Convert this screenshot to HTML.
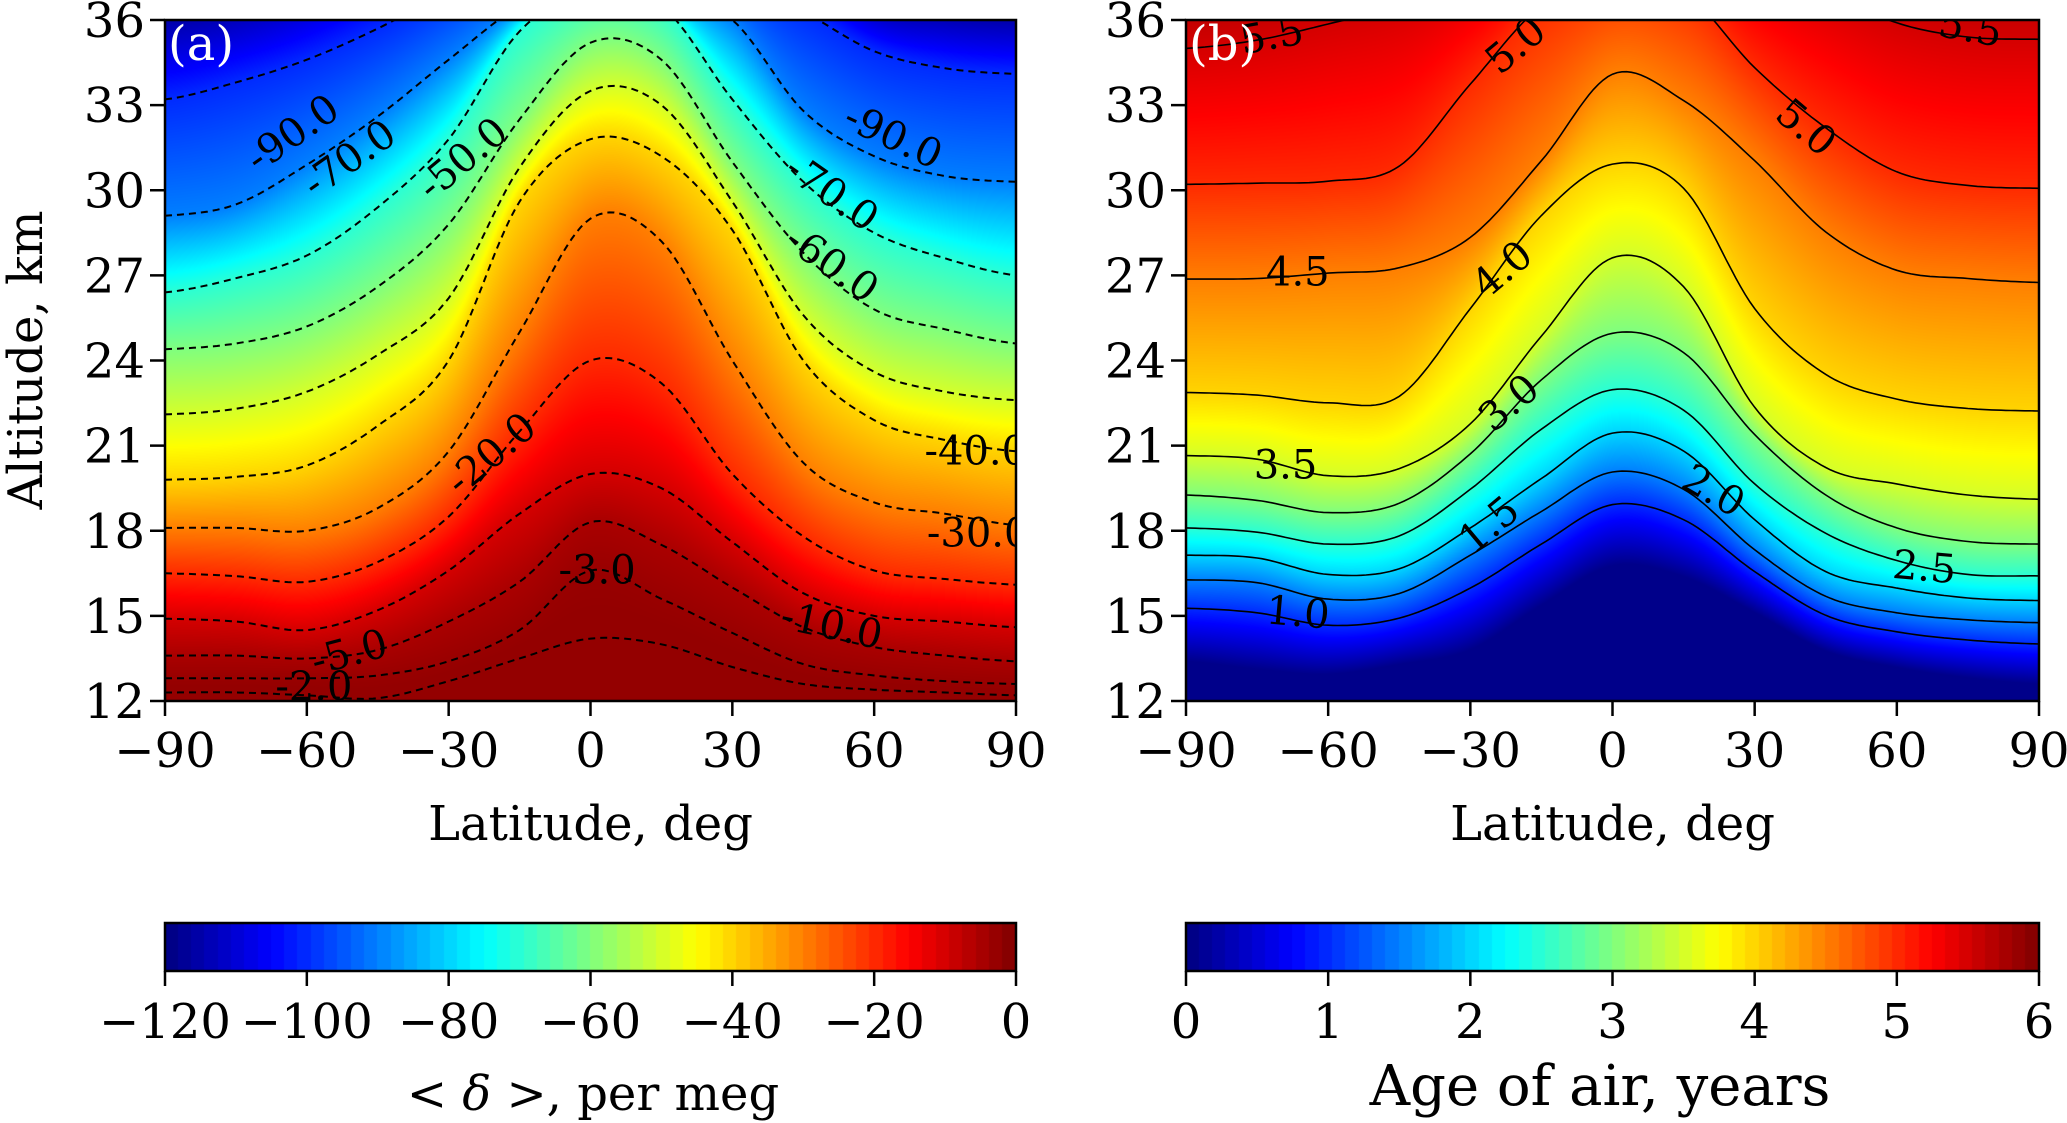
<!DOCTYPE html>
<html><head><meta charset="utf-8">
<style>
html,body{margin:0;padding:0;background:#fff;}
#root{position:relative;width:2067px;height:1123px;overflow:hidden;font-family:"DejaVu Serif","Liberation Serif",serif;}
svg{position:absolute;left:0;top:0;}
canvas{position:absolute;}
</style></head>
<body>
<div id="root">
<canvas id="fa" style="left:165px;top:20px" width="851" height="681"></canvas>
<canvas id="fb" style="left:1186px;top:20px" width="853" height="681"></canvas>
<canvas id="ca" style="left:165px;top:923px" width="851" height="48"></canvas>
<canvas id="cb" style="left:1186px;top:923px" width="853" height="48"></canvas>
<svg id="ov" width="2067" height="1123"></svg>
</div>
<script>
// ---- data ----
const lats = [-90,-75,-60,-45,-30,-15,0,15,30,45,60,75,90];
// panel (a): <delta> field levels (per meg) and altitude (km) of each level at each latitude
const levelsA = [-115,-100,-90,-70,-60,-50,-40,-30,-20,-10,-5,-3,-2];
const altA_m115 = [36.0,36.4,37.2,38.5,40,41,42,41.5,40,38.5,36.6,36.2,36.0];
const altA_m100 = [33.2,33.8,34.6,35.7,37,38,39,38.5,37.5,36.3,34.9,34.3,34.1];
const altA_m90  = [29.1,29.5,30.9,32.6,34.6,36.5,37.5,37,36,32.8,31.2,30.5,30.3];
const altA_m70  = [26.4,26.9,27.7,29.4,31.8,35.6,37,36.5,33.2,30.3,28.5,27.6,27.0];
const altA_m60  = [24.4,24.6,25.2,26.6,28.8,32.5,35.2,34.6,31.0,27.8,25.8,25.1,24.6];
const altA_m50  = [22.1,22.3,22.9,24.2,26.2,30.8,33.5,33.0,29.6,25.6,23.6,22.9,22.6];
const altA_m40  = [19.8,19.9,20.3,21.7,24.0,29.6,31.8,31.2,28.6,24.0,21.9,21.2,20.8];
const altA_m30  = [18.1,18.1,18.0,18.8,20.8,25.0,29.0,28.2,24.0,20.4,19.0,18.6,18.2];
const altA_m20  = [16.5,16.4,16.2,16.9,18.5,21.5,24.0,23.2,20.0,17.8,16.6,16.3,16.1];
const altA_m10  = [14.9,14.8,14.5,15.2,16.6,18.6,20.0,19.5,17.6,15.8,15.0,14.8,14.6];
const altA_m5   = [13.6,13.6,13.5,13.8,14.8,16.2,18.3,17.5,16.0,14.6,13.9,13.6,13.4];
const altA_m3   = [12.8,12.8,12.8,12.9,13.4,14.5,16.6,15.6,14.4,13.3,12.9,12.7,12.6];
const altA_m2   = [12.3,12.3,12.2,12.1,12.7,13.5,14.2,14.0,13.2,12.6,12.4,12.3,12.2];
// which levels are drawn as contour lines in panel (a)
const drawnA = [false,true,true,true,true,true,true,true,true,true,true,true,true];
// panel (b): age of air contour levels (years) and altitudes
const levelsB = [1.0,1.5,2.0,2.5,3.0,3.5,4.0,4.5,5.0,5.5];
const altB_10 = [15.27,15.11,14.67,14.92,15.98,17.53,18.92,18.39,16.56,15.02,14.44,14.15,14.01];
const altB_15 = [16.27,16.17,15.59,15.79,17.14,18.68,20.07,19.46,17.33,15.69,15.11,14.86,14.76];
const altB_20 = [17.14,17.04,16.46,16.66,18.10,19.84,21.44,20.81,18.39,16.56,15.98,15.63,15.54];
const altB_25 = [18.10,17.95,17.53,17.82,19.46,21.58,22.97,22.25,19.65,17.91,16.95,16.46,16.41];
const altB_30 = [19.26,19.07,18.64,18.97,20.71,23.32,24.96,24.28,21.39,19.26,18.10,17.62,17.53];
const altB_35 = [20.65,20.52,19.94,20.19,21.77,24.86,27.62,26.60,22.35,20.23,19.65,19.26,19.11];
const altB_40 = [22.87,22.78,22.51,22.74,25.83,29.11,30.92,30.07,25.83,23.51,22.64,22.31,22.22];
const altB_45 = [26.87,26.89,27.08,27.27,28.34,31.04,34.09,33.16,31.04,28.53,27.18,26.89,26.75];
const altB_50 = [30.21,30.25,30.32,30.85,33.74,36.5,37.5,37.0,34.32,32.20,30.65,30.17,30.07];
const altB_55 = [35.0,35.29,35.86,36.5,37.5,38.5,39.5,39,38,37,35.9,35.4,35.32];
const drawnB = [true,true,true,true,true,true,true,true,true,true];
// contour labels: text, lat, alt, angle
const labelsAText = ["-90.0","-70.0","-50.0","-90.0","-70.0","-60.0","-40.0","-30.0","-20.0","-3.0","-10.0","-5.0","-2.0"];
const labelsALat = [-63,-51,-27,64,51,51,81.5,82,-21,1.4,51,-51,-58.5];
const labelsAAlt = [32.0,31.1,31.1,31.9,29.9,27.4,20.8,17.9,20.7,16.6,14.65,13.7,12.5];
const labelsAAng = [-35,-35,-40,25,35,35,0,0,-40,0,12,-15,0];
const labelsBText = ["5.5","5.0","5.5","5.0","4.5","4.0","3.0","3.5","2.0","1.5","2.5","1.0"];
const labelsBLat = [-71.9,-20.4,75.5,40.8,-66.4,-23.2,-21.8,-69,21.3,-26,65.8,-66.4];
const labelsBAlt = [35.44,35.1,35.7,32.2,27.1,27.2,22.5,20.3,19.4,18.2,16.7,15.1];
const labelsBAng = [-10,-40,10,40,0,-40,-40,0,30,-40,5,5];
const xTicks = [-90,-60,-30,0,30,60,90];
const yTicks = [12,15,18,21,24,27,30,33,36];
const cbTicksA = [-120,-100,-80,-60,-40,-20,0];
const cbTicksB = [0,1,2,3,4,5,6];

const tablesA = [altA_m115,altA_m100,altA_m90,altA_m70,altA_m60,altA_m50,altA_m40,altA_m30,altA_m20,altA_m10,altA_m5,altA_m3,altA_m2];
const tablesB = [altB_10,altB_15,altB_20,altB_25,altB_30,altB_35,altB_40,altB_45,altB_50,altB_55];

function jet(x){x=Math.max(0,Math.min(1,x));
 const c=v=>Math.max(0,Math.min(1,v));
 return [c(1.5-Math.abs(4*x-3)),c(1.5-Math.abs(4*x-2)),c(1.5-Math.abs(4*x-1))];}
function cr(tab,lat){const t=(lat+90)/15;let i=Math.floor(t);if(i>=tab.length-1)i=tab.length-2;const f=t-i;
 const p0=tab[Math.max(0,i-1)],p1=tab[i],p2=tab[i+1],p3=tab[Math.min(tab.length-1,i+2)];
 return 0.5*((2*p1)+(-p0+p2)*f+(2*p0-5*p1+4*p2-p3)*f*f+(-p0+3*p1-3*p2+p3)*f*f*f);}
function valueAt(alts,levels,z){
 const pts=alts.map((a,i)=>[a,levels[i]]).sort((p,q)=>p[0]-q[0]);
 if(z<=pts[0][0]){const s=(pts[1][1]-pts[0][1])/(pts[1][0]-pts[0][0]);return pts[0][1]+s*(z-pts[0][0]);}
 const n=pts.length-1;
 if(z>=pts[n][0]){const s=(pts[n][1]-pts[n-1][1])/(pts[n][0]-pts[n-1][0]);return pts[n][1]+s*(z-pts[n][0]);}
 for(let k=0;k<n;k++){if(z>=pts[k][0]&&z<=pts[k+1][0]){const d=pts[k+1][0]-pts[k][0]||1e-6;return pts[k][1]+(pts[k+1][1]-pts[k][1])*(z-pts[k][0])/d;}}
 return pts[n][1];}
function drawField(id,tables,levels,vmin,vmax){
 const cv=document.getElementById(id),ctx=cv.getContext('2d'),W=cv.width,H=cv.height;
 const img=ctx.createImageData(W,H);
 for(let px=0;px<W;px++){
  const lat=-90+180*(px+0.5)/W;
  const alts=tables.map(t=>cr(t,lat));
  for(let py=0;py<H;py++){
   const z=36-24*(py+0.5)/H;
   let v=valueAt(alts,levels,z);
   v=Math.max(vmin+0.01*(vmax-vmin),Math.min(vmax-0.02*(vmax-vmin),v));
   const c=jet((v-vmin)/(vmax-vmin));const o=(py*W+px)*4;
   img.data[o]=c[0]*255;img.data[o+1]=c[1]*255;img.data[o+2]=c[2]*255;img.data[o+3]=255;}}
 ctx.putImageData(img,0,0);}
function drawCbar(id){const cv=document.getElementById(id),ctx=cv.getContext('2d');
 const N=64;for(let i=0;i<N;i++){const c=jet((i+0.5)/N);ctx.fillStyle=`rgb(${c[0]*255|0},${c[1]*255|0},${c[2]*255|0})`;
 ctx.fillRect(Math.floor(i*cv.width/N),0,Math.ceil(cv.width/N)+1,cv.height);}}
drawField('fa',tablesA,levelsA,-120,0);
drawField('fb',tablesB,levelsB,0,6);
drawCbar('ca');drawCbar('cb');

const NS='http://www.w3.org/2000/svg';const ov=document.getElementById('ov');
function el(tag,attrs,parent){const e=document.createElementNS(NS,tag);for(const k in attrs)e.setAttribute(k,attrs[k]);(parent||ov).appendChild(e);return e;}
const defs=el('defs',{});
function panel(key,X0,X1,Y0,Y1,tables,drawn,dashed,lt,la,lan,lg,letter){
 const sx=lat=>X0+(lat+90)/180*(X1-X0), sy=z=>Y0+(36-z)/24*(Y1-Y0);
 const cp=el('clipPath',{id:'clip'+key},defs);el('rect',{x:X0,y:Y0,width:X1-X0,height:Y1-Y0},cp);
 const g=el('g',{'clip-path':`url(#clip${key})`});
 
 
 tables.forEach((t,li)=>{if(!drawn[li])return;let d='';
  for(let lat=-90;lat<=90.001;lat+=1){d+=(lat===-90?'M':'L')+sx(lat).toFixed(1)+','+sy(cr(t,lat)).toFixed(1);}
  const p=el('path',{d:d,fill:'none',stroke:'#000','stroke-width':dashed?2:1.6,'stroke-dasharray':dashed?'7,5':'none'},g);
  
  });
 lt.forEach((txt,i)=>{const x=sx(la[i]),y=sy(lan[i]);
  const tx=el('text',{x:x,y:y,'font-size':40,'text-anchor':'middle','dominant-baseline':'central',transform:`rotate(${lg[i]},${x},${y})`,fill:'#000'},g);
  tx.textContent=txt;
  
  });
 const lt2=el('text',{x:X0+3,y:Y0+40,'font-size':48,fill:'#fff'});lt2.textContent=letter;
 
 
 const fr=el('rect',{x:X0,y:Y0,width:X1-X0,height:Y1-Y0,fill:'none',stroke:'#000','stroke-width':2.5});
 
 
 xTicks.forEach(v=>{const x=sx(v);el('line',{x1:x,x2:x,y1:Y1,y2:Y1+15,stroke:'#000','stroke-width':2.5});
  const t=el('text',{x:x,y:Y1+66,'font-size':48,'text-anchor':'middle'});t.textContent=(v<0?'\u2212':'')+Math.abs(v);
  
  });
 yTicks.forEach(v=>{const y=sy(v);el('line',{x1:X0-15,x2:X0,y1:y,y2:y,stroke:'#000','stroke-width':2.5});
  const t=el('text',{x:X0-20,y:y+17,'font-size':48,'text-anchor':'end'});t.textContent=v;
  
  });
 const xl=el('text',{x:(X0+X1)/2,y:Y1+139,'font-size':48,'text-anchor':'middle'});xl.textContent='Latitude, deg';
 
 
}
panel('a',165,1016,20,701,tablesA,drawnA,true,labelsAText,labelsALat,labelsAAlt,labelsAAng,'(a)');
panel('b',1186,2039,20,701,tablesB,drawnB,false,labelsBText,labelsBLat,labelsBAlt,labelsBAng,'(b)');
const yl=el('text',{x:0,y:0,'font-size':48,'text-anchor':'middle',transform:'translate(42,360) rotate(-90)'});yl.textContent='Altitude, km';


function cbar(key,X0,X1,ticks,vmin,vmax){
 const r=el('rect',{x:X0,y:923,width:X1-X0,height:48,fill:'none',stroke:'#000','stroke-width':2.5});
 
 
 ticks.forEach(v=>{const x=X0+(v-vmin)/(vmax-vmin)*(X1-X0);
  el('line',{x1:x,x2:x,y1:971,y2:986,stroke:'#000','stroke-width':2.5});
  const t=el('text',{x:x,y:1038,'font-size':48,'text-anchor':'middle'});t.textContent=(v<0?'\u2212':'')+Math.abs(v);
  
  });}
cbar('a',165,1016,cbTicksA,-120,0);
cbar('b',1186,2039,cbTicksB,0,6);
const la=el('text',{x:593,y:1110,'font-size':48,'text-anchor':'middle'});
la.innerHTML='&lt; <tspan font-style="italic">δ</tspan> &gt;, per meg';


const lb=el('text',{x:1600,y:1105,'font-size':56,'text-anchor':'middle'});lb.textContent='Age of air, years';


</script>
</body></html>
